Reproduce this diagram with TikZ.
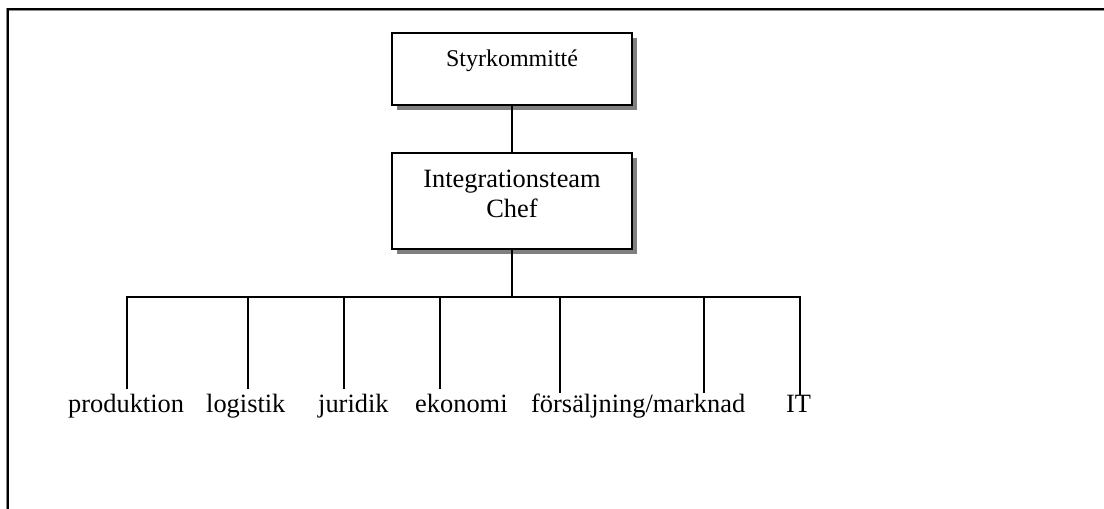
\documentclass[tikz,border=0pt]{standalone}
\usepackage{fontspec}
\setmainfont{Liberation Serif}
\usetikzlibrary{shadows}
\begin{document}
\begin{tikzpicture}[x=1pt,y=-1pt,
  orgbox/.style={draw=black, line width=1.8pt, fill=white, inner sep=0pt,
    text width=240pt, align=center,
    drop shadow={shadow xshift=4.8pt, shadow yshift=-5pt, fill=black!50, opacity=1}},
  link/.style={line width=1.6pt},
  unit/.style={anchor=base west, inner sep=0pt, font=\fontsize{26.4}{30}\selectfont}]
\useasboundingbox (0,0) rectangle (1104,509);
\fill[white] (0,0) rectangle (1104,509);
% page frame (top and left edges only)
\draw[black!45, line width=3.4pt] (7.7,509) -- (7.7,9.3) -- (1104,9.3);
\draw[black, line width=1.8pt] (7.7,509) -- (7.7,9.3) -- (1104,9.3);

% boxes
\node[orgbox, font=\fontsize{24}{28}\selectfont, text height=33pt, text depth=39pt, anchor=base]
  (styr) at (512,66) {Styrkommitté};
\node[orgbox, font=\fontsize{26.4}{30}\selectfont, text height=34pt, text depth=62pt, anchor=base]
  (integ) at (512,187) {Integrationsteam\\Chef};

% connectors
\coordinate (hub) at (512,297);
\draw[link] (styr.south) -- (integ.north);
\draw[link] (integ.south) -- (hub);
\foreach \n/\x/\y in {1/127/389, 2/248/389, 3/344/389, 4/440/389, 5/560/393, 6/704/393, 7/800/395} {
  \coordinate (tap\n) at (\x,297);
  \coordinate (end\n) at (\x,\y);
}
\draw[link] (end1) -- (tap1) -- (tap7) -- (end7);
\foreach \n in {2,...,6} { \draw[link] (tap\n) -- (end\n); }

% unit labels
\node[unit] (prod) at (68,412) {produktion};
\node[unit] (logi) at (206,412) {logistik};
\node[unit] (juri) at (318,412) {juridik};
\node[unit] (ekon) at (415,412) {ekonomi};
\node[unit] (fors) at (531,412) {försäljning/marknad};
\node[unit] (it) at (786,412) {IT};
\end{tikzpicture}
\end{document}
